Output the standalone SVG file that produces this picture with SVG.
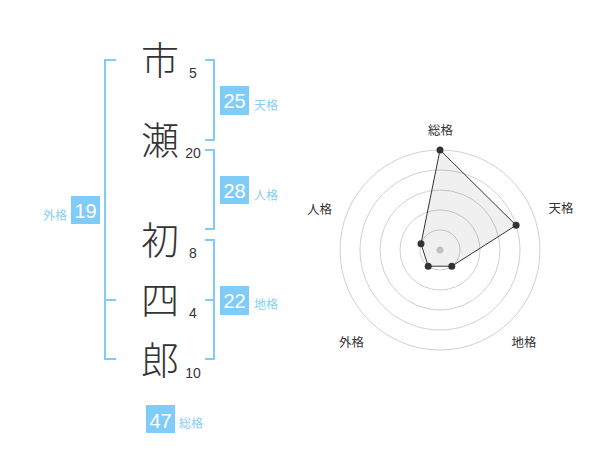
<svg xmlns="http://www.w3.org/2000/svg" width="600" height="470" viewBox="0 0 600 470">
<style>
.ch{font-family:"Noto Sans CJK JP","Noto Sans CJK SC",sans-serif;font-size:38px;font-weight:300;fill:#333;text-anchor:middle}
.st{font-family:"Liberation Sans",Arial,sans-serif;font-size:14px;fill:#333;text-anchor:middle}
.br{fill:none;stroke:#80ccf8;stroke-width:2}
.box{fill:#80ccf8}
.bn{font-family:"Liberation Sans",Arial,sans-serif;font-size:20px;fill:#fff;text-anchor:middle}
.bl{font-family:"Noto Sans CJK JP","Noto Sans CJK SC",sans-serif;font-size:12px;fill:#88cef5}
.ring{fill:none;stroke:#d0d0d0;stroke-width:1}
.rl{font-family:"Noto Sans CJK JP","Noto Sans CJK SC",sans-serif;font-size:12.5px;fill:#333;text-anchor:middle}
.pt{fill:#333}
</style>
<rect width="600" height="470" fill="#fff"/>
<g id="chars">
<text class="ch" x="160" y="74">市</text>
<text class="ch" x="160" y="154">瀬</text>
<text class="ch" x="160" y="254">初</text>
<text class="ch" x="160" y="314">四</text>
<text class="ch" x="160" y="374">郎</text>
</g>
<g id="strokes">
<text class="st" x="193" y="78">5</text>
<text class="st" x="193" y="158">20</text>
<text class="st" x="193" y="258">8</text>
<text class="st" x="193" y="318">4</text>
<text class="st" x="193" y="378">10</text>
</g>
<g id="connectors">
<path class="br" d="M116,60H105V359H116M105,300H116"/>
<path class="br" d="M205,60H214V140H205"/>
<path class="br" d="M205,150H214V229H205"/>
<path class="br" d="M205,240H214V359H205M205,300H214"/>
</g>
<g id="tenkaku">
<rect class="box" x="220" y="86" width="29" height="29"/>
<text class="bn" x="234.5" y="108">25</text>
<text class="bl" x="254" y="110">天格</text>
</g>
<g id="jinkaku">
<rect class="box" x="220" y="176" width="29" height="28"/>
<text class="bn" x="234.5" y="198">28</text>
<text class="bl" x="254" y="199.5">人格</text>
</g>
<g id="chikaku">
<rect class="box" x="220" y="286" width="29" height="29"/>
<text class="bn" x="234.5" y="308">22</text>
<text class="bl" x="254" y="309">地格</text>
</g>
<g id="gaikaku">
<rect class="box" x="71" y="196" width="29" height="28"/>
<text class="bn" x="85.5" y="218">19</text>
<text class="bl" x="67" y="220" text-anchor="end">外格</text>
</g>
<g id="soukaku">
<rect class="box" x="146" y="405" width="29" height="28"/>
<text class="bn" x="160.5" y="428">47</text>
<text class="bl" x="179" y="427.5">総格</text>
</g>
<g id="radar">
<circle class="ring" cx="440" cy="250" r="20"/>
<circle class="ring" cx="440" cy="250" r="40"/>
<circle class="ring" cx="440" cy="250" r="60"/>
<circle class="ring" cx="440" cy="250" r="80"/>
<circle class="ring" cx="440" cy="250" r="100"/>
<circle cx="440" cy="250" r="3.5" fill="#cccccc"/>
<polygon points="440,150 516.1,225.3 451.8,266.2 428.2,266.2 421,243.8" fill="#000" fill-opacity="0.06" stroke="#333" stroke-width="1"/>
<circle class="pt" cx="440" cy="150" r="3.5"/>
<circle class="pt" cx="516.1" cy="225.3" r="3.5"/>
<circle class="pt" cx="451.8" cy="266.2" r="3.5"/>
<circle class="pt" cx="428.2" cy="266.2" r="3.5"/>
<circle class="pt" cx="421" cy="243.8" r="3.5"/>
<text class="rl" x="440.5" y="134.5">総格</text>
<text class="rl" x="561" y="213">天格</text>
<text class="rl" x="524" y="346.5">地格</text>
<text class="rl" x="351.5" y="346.5">外格</text>
<text class="rl" x="319.5" y="213.5">人格</text>
</g>
</svg>
